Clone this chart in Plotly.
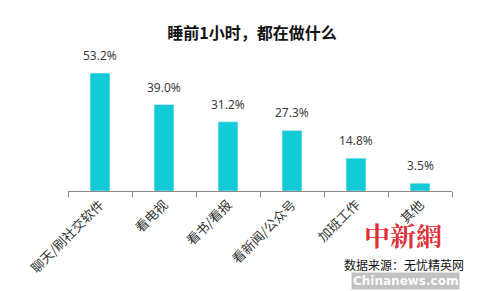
import plotly.graph_objects as go

categories = ["聊天/刷社交软件", "看电视", "看书/看报", "看新闻/公众号", "加班工作", "其他"]
values = [53.2, 39.0, 31.2, 27.3, 14.8, 3.5]
labels = [f"{v:.1f}%" for v in values]

fig = go.Figure(go.Bar(
    x=categories, y=values,
    marker_color="#12CBD6", width=0.31,
))

for c, v, t in zip(categories, values, labels):
    fig.add_annotation(x=c, y=v, text=t, showarrow=False, yanchor="bottom", yshift=7,
                       font=dict(family="Noto Sans, sans-serif", size=12, color="#404040"))

fig.update_layout(
    width=481, height=291,
    margin=dict(l=68, r=29, t=58, b=100),
    paper_bgcolor="white", plot_bgcolor="white",
    showlegend=False,
    title=dict(text="<b>睡前1小时，都在做什么</b>", x=0.524, xanchor="center", y=0.886, yanchor="middle",
               font=dict(family="Noto Sans CJK SC, sans-serif", size=16, color="#111111")),
    xaxis=dict(type="category", tickson="boundaries", ticks="outside", ticklen=5, tickcolor="#888888",
               showline=True, linecolor="#888888", linewidth=1, tickangle=-45,
               tickfont=dict(family="Noto Sans CJK SC, sans-serif", size=13, color="#333333")),
    yaxis=dict(range=[0, 60], visible=False, showgrid=False),
)

fig.add_annotation(text="<b>中新網</b>", xref="paper", yref="paper", x=0.872, y=-0.325, showarrow=False,
                   xanchor="center", yanchor="middle",
                   font=dict(family="Noto Serif CJK SC, Noto Sans CJK SC, serif", size=26, color="rgba(220,20,30,0.9)"))
fig.add_annotation(text="数据来源：无忧精英网", xref="paper", yref="paper", x=0.875, y=-0.555, showarrow=False,
                   xanchor="center", yanchor="middle",
                   font=dict(family="Noto Sans CJK SC, sans-serif", size=12, color="#111111"))
fig.add_annotation(text="<b>Chinanews.com</b>", xref="paper", yref="paper", x=0.878, y=-0.68, showarrow=False,
                   xanchor="center", yanchor="middle", borderpad=1,
                   bgcolor="rgba(120,120,120,0.45)",
                   font=dict(family="DejaVu Sans, sans-serif", size=12, color="rgba(255,255,255,0.95)"))

fig.write_html("out.html")
